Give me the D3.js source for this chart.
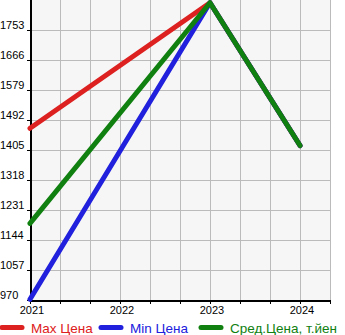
<!DOCTYPE html>
<html>
 <head>
  <meta charset="utf-8" />
  <script src="https://cdnjs.cloudflare.com/ajax/libs/d3/7.9.0/d3.min.js"></script>
  <style>
   body, html { margin: 0; padding: 0; background: #fff; overflow: hidden; }
   svg { display: block; }
   text { font-family: "Liberation Sans", Arial, sans-serif; }
  </style>
 </head>
 <body>
  <svg width="345" height="335"></svg>
  <script>
   const years = [2021, 2023, 2024];
   const maxPrice = [1468, 1832, 1418];
   const minPrice = [972, 1832, 1418];
   const avgPrice = [1192, 1832, 1418];
   const yTicks = [970, 1057, 1144, 1231, 1318, 1405, 1492, 1579, 1666, 1753];
   const xLabels = [2021, 2022, 2023, 2024];
   const seriesNames = ["Max Цена", "Min Цена", "Сред.Цена, т.йен"];
   const seriesColors = ["#dd2020", "#2020dd", "#108010"];

   const svg = d3.select("svg");
   const plotLeft = 30, plotRight = 330, plotTop = 0, plotBottom = 300;

   const x = d3.scaleLinear().domain([2021, 2024 + 1 / 3]).range([plotLeft, plotRight]);
   const y = d3.scaleLinear().domain([970, 1840]).range([plotBottom, plotTop]);

   svg.append("rect")
    .attr("x", plotLeft).attr("y", plotTop)
    .attr("width", plotRight - plotLeft).attr("height", plotBottom - plotTop)
    .attr("fill", "#f6f6f6");

   // grid
   const xGrid = d3.range(0, 11).map(i => 2021 + i / 3);
   svg.append("g").selectAll("line")
    .data(xGrid.slice(1))
    .enter().append("line")
    .attr("x1", d => Math.round(x(d)) + 0.5).attr("x2", d => Math.round(x(d)) + 0.5)
    .attr("y1", plotTop).attr("y2", plotBottom)
    .attr("stroke", "#bbb");

   svg.append("g").selectAll("line")
    .data(yTicks.slice(1))
    .enter().append("line")
    .attr("x1", plotLeft).attr("x2", plotRight)
    .attr("y1", d => Math.round(y(d)) + 0.5).attr("y2", d => Math.round(y(d)) + 0.5)
    .attr("stroke", "#bbb");

   // y axis
   const yAxis = svg.append("g");
   yAxis.selectAll("line")
    .data(yTicks)
    .enter().append("line")
    .attr("x1", plotLeft - 3).attr("x2", plotLeft)
    .attr("y1", d => Math.round(y(d)) + 0.5).attr("y2", d => Math.round(y(d)) + 0.5)
    .attr("stroke", "#000");
   yAxis.selectAll("text")
    .data(yTicks)
    .enter().append("text")
    .attr("x", 0).attr("y", d => y(d) - 1)
    .attr("font-size", 11)
    .text(d => d);
   svg.append("line")
    .attr("x1", plotLeft + 1).attr("x2", plotLeft + 1)
    .attr("y1", plotTop).attr("y2", plotBottom + 2)
    .attr("stroke", "#000").attr("stroke-width", 2);

   // x axis
   const xAxis = svg.append("g");
   xAxis.selectAll("line")
    .data(xGrid)
    .enter().append("line")
    .attr("x1", d => Math.round(x(d)) + 0.5).attr("x2", d => Math.round(x(d)) + 0.5)
    .attr("y1", plotBottom).attr("y2", plotBottom + 4)
    .attr("stroke", "#000");
   xAxis.selectAll("text")
    .data(xLabels)
    .enter().append("text")
    .attr("x", d => x(d) + 2).attr("y", 314)
    .attr("text-anchor", "middle")
    .attr("font-size", 11)
    .text(d => d);
   svg.append("line")
    .attr("x1", plotLeft).attr("x2", plotRight + 1)
    .attr("y1", plotBottom + 1).attr("y2", plotBottom + 1)
    .attr("stroke", "#000").attr("stroke-width", 2);

   // lines
   const line = d3.line().x(d => x(d[0])).y(d => y(d[1]));
   [maxPrice, minPrice, avgPrice].forEach((vals, i) => {
    svg.append("path")
     .datum(years.map((yr, j) => [yr, vals[j]]))
     .attr("d", line)
     .attr("fill", "none")
     .attr("stroke", seriesColors[i])
     .attr("stroke-width", 5)
     .attr("stroke-linecap", "round")
     .attr("stroke-linejoin", "round");
   });

   // legend
   const legendX = [0, 99, 199];
   const legend = svg.append("g").selectAll("g")
    .data(seriesNames)
    .enter().append("g")
    .attr("transform", (d, i) => `translate(${legendX[i]},327.5)`);
   legend.append("line")
    .attr("x1", 2).attr("x2", 22)
    .attr("stroke", (d, i) => seriesColors[i])
    .attr("stroke-width", 5)
    .attr("stroke-linecap", "round");
   legend.append("text")
    .attr("x", 31).attr("y", 5)
    .attr("font-size", 13.5)
    .attr("fill", (d, i) => seriesColors[i])
    .text(d => d);
  </script>
 </body>
</html>
